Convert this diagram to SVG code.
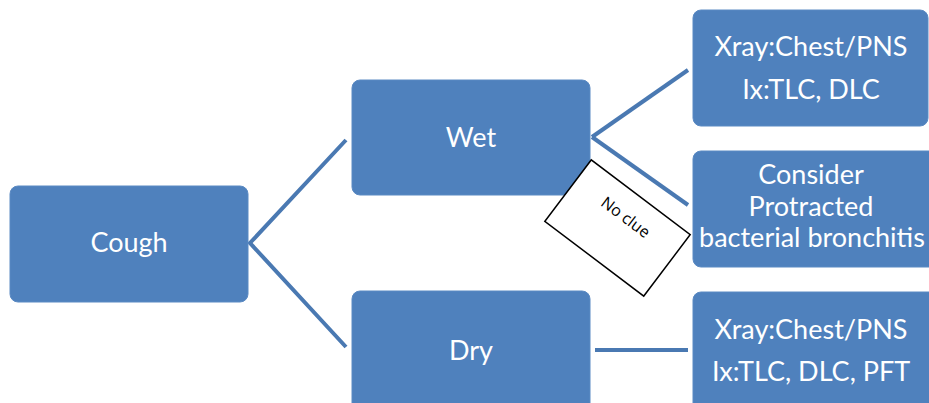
<svg xmlns="http://www.w3.org/2000/svg" width="929" height="403" viewBox="0 0 929 403">
<style>
.box{fill:#4f81bd;stroke:#5b8ac3;stroke-width:1}
.t{fill:#fff;font-family:Lato,"Open Sans","Liberation Sans",sans-serif;font-size:27px;text-anchor:middle;dominant-baseline:central}
.c{stroke:#4a79b2;stroke-width:4;fill:none}
</style>
<rect width="929" height="403" fill="#fff"/>
<g id="connectors">
<polyline class="c" points="346,140 250,243 346,347"/>
<line class="c" x1="592" y1="137" x2="688" y2="70"/>
<line class="c" x1="592" y1="137" x2="688" y2="205"/>
<line class="c" x1="595" y1="350" x2="688" y2="350"/>
</g>
<g id="cough"><rect class="box" x="10" y="186" width="238" height="116" rx="8"/><text class="t" x="129" y="241">Cough</text></g>
<g id="wet"><rect class="box" x="352" y="80" width="238" height="115" rx="8"/><text class="t" x="471" y="136">Wet</text></g>
<g id="dry"><rect class="box" x="352" y="291" width="238" height="125" rx="8"/><text class="t" x="471" y="349">Dry</text></g>
<g id="wet-xray"><rect class="box" x="693" y="10" width="235" height="116" rx="8"/><text class="t" x="811" y="45">Xray:Chest/PNS</text><text class="t" x="811" y="88">Ix:TLC, DLC</text></g>
<g id="wet-consider"><rect class="box" x="693" y="151" width="245" height="116" rx="8"/><text class="t" x="811" y="173">Consider</text><text class="t" x="811" y="205">Protracted</text><text class="t" x="812" y="236">bacterial bronchitis</text></g>
<g id="dry-xray"><rect class="box" x="693" y="292" width="245" height="125" rx="8"/><text class="t" x="811" y="328">Xray:Chest/PNS</text><text class="t" x="811" y="370">Ix:TLC, DLC, PFT</text></g>
<g id="noclue" transform="translate(617.5,228) rotate(37.1)"><rect x="-62" y="-38.5" width="124" height="77" fill="#fff" stroke="#000" stroke-width="1.5"/><text x="0" y="-14" font-family="'Open Sans','Liberation Sans',sans-serif" font-size="16" fill="#000" text-anchor="middle" dominant-baseline="central">No clue</text></g>
</svg>
